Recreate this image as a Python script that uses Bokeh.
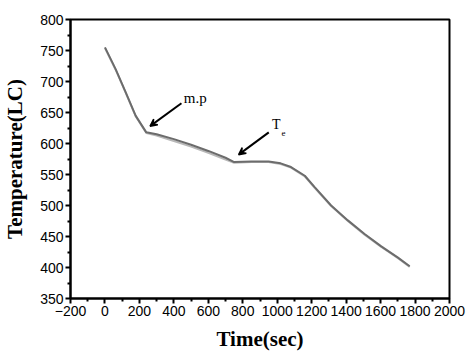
from bokeh.plotting import figure
from bokeh.models import Arrow, VeeHead, Label, FixedTicker, Range1d
from bokeh.embed import file_html
from bokeh.resources import INLINE

time_s = [0, 62, 120, 178, 240, 300, 400, 500, 600, 700, 750, 850, 950, 1020, 1080, 1160, 1216, 1313, 1410, 1507, 1604, 1701, 1769]
temp_c = [755, 720, 683, 645, 618, 615, 607, 598, 588, 577, 570, 571, 571, 568, 562, 548, 530, 500, 476, 454, 434, 416, 402]
temp_c2 = [754, 719, 682, 644, 617, 613, 604, 595, 585, 574, 569, 570, 570, 567, 561, 547, 529, 499, 475, 453, 433, 415, 401]

x_ticks = [-200, 0, 200, 400, 600, 800, 1000, 1200, 1400, 1600, 1800, 2000]
y_ticks = [350, 400, 450, 500, 550, 600, 650, 700, 750, 800]

p = figure(width=473, height=358, output_backend="svg", toolbar_location=None,
           x_range=Range1d(-200, 2000), y_range=Range1d(350, 800),
           min_border_left=70, min_border_right=24, min_border_top=19, min_border_bottom=60)
p.grid.visible = False
p.outline_line_color = "black"
p.outline_line_width = 2

p.line(time_s, temp_c2, line_color="#b8b8b8", line_width=2)
p.line(time_s, temp_c, line_color="#6c6c6c", line_width=2)

for ax, ticks in ((p.xaxis[0], x_ticks), (p.yaxis[0], y_ticks)):
    ax.ticker = FixedTicker(ticks=ticks, minor_ticks=[t + (ticks[1]-ticks[0]) / 2 for t in ticks[:-1]])
    ax.axis_line_width = 2
    ax.axis_line_color = "black"
    ax.major_tick_line_width = 2
    ax.minor_tick_line_width = 2
    ax.major_tick_out = 5
    ax.major_tick_in = 0
    ax.minor_tick_out = 3
    ax.minor_tick_in = 0
    ax.major_label_text_font = "Liberation Sans"
    ax.major_label_text_font_size = "14px"
    ax.major_label_text_color = "black"
    ax.axis_label_text_font = "Liberation Serif"
    ax.axis_label_text_font_style = "bold"
    ax.axis_label_text_font_size = "21px"
    ax.axis_label_text_color = "black"

p.xaxis.axis_label = "Time(sec)"
p.yaxis.axis_label = "Temperature(LC)"
p.xaxis.major_label_standoff = 2
p.yaxis.major_label_standoff = 2
p.xaxis.axis_label_standoff = 8
p.yaxis.axis_label_standoff = 10

p.add_layout(Arrow(end=VeeHead(size=7, line_color="black", line_width=1.5), x_start=444, y_start=665, x_end=262, y_end=628,
                   line_color="black", line_width=2))
p.add_layout(Arrow(end=VeeHead(size=7, line_color="black", line_width=1.5), x_start=951, y_start=618, x_end=776, y_end=582,
                   line_color="black", line_width=2))

p.add_layout(Label(x=458, y=673, text="m.p", text_font="Liberation Serif", text_font_size="15px",
                   text_baseline="middle", text_color="black"))
p.add_layout(Label(x=970, y=631, text="T", text_font="Liberation Serif", text_font_size="14px",
                   text_baseline="middle", text_color="black"))
p.add_layout(Label(x=1025, y=617, text="e", text_font="Liberation Serif", text_font_size="9px",
                   text_baseline="middle", text_color="black"))

open("out.html", "w").write(file_html(p, INLINE))
